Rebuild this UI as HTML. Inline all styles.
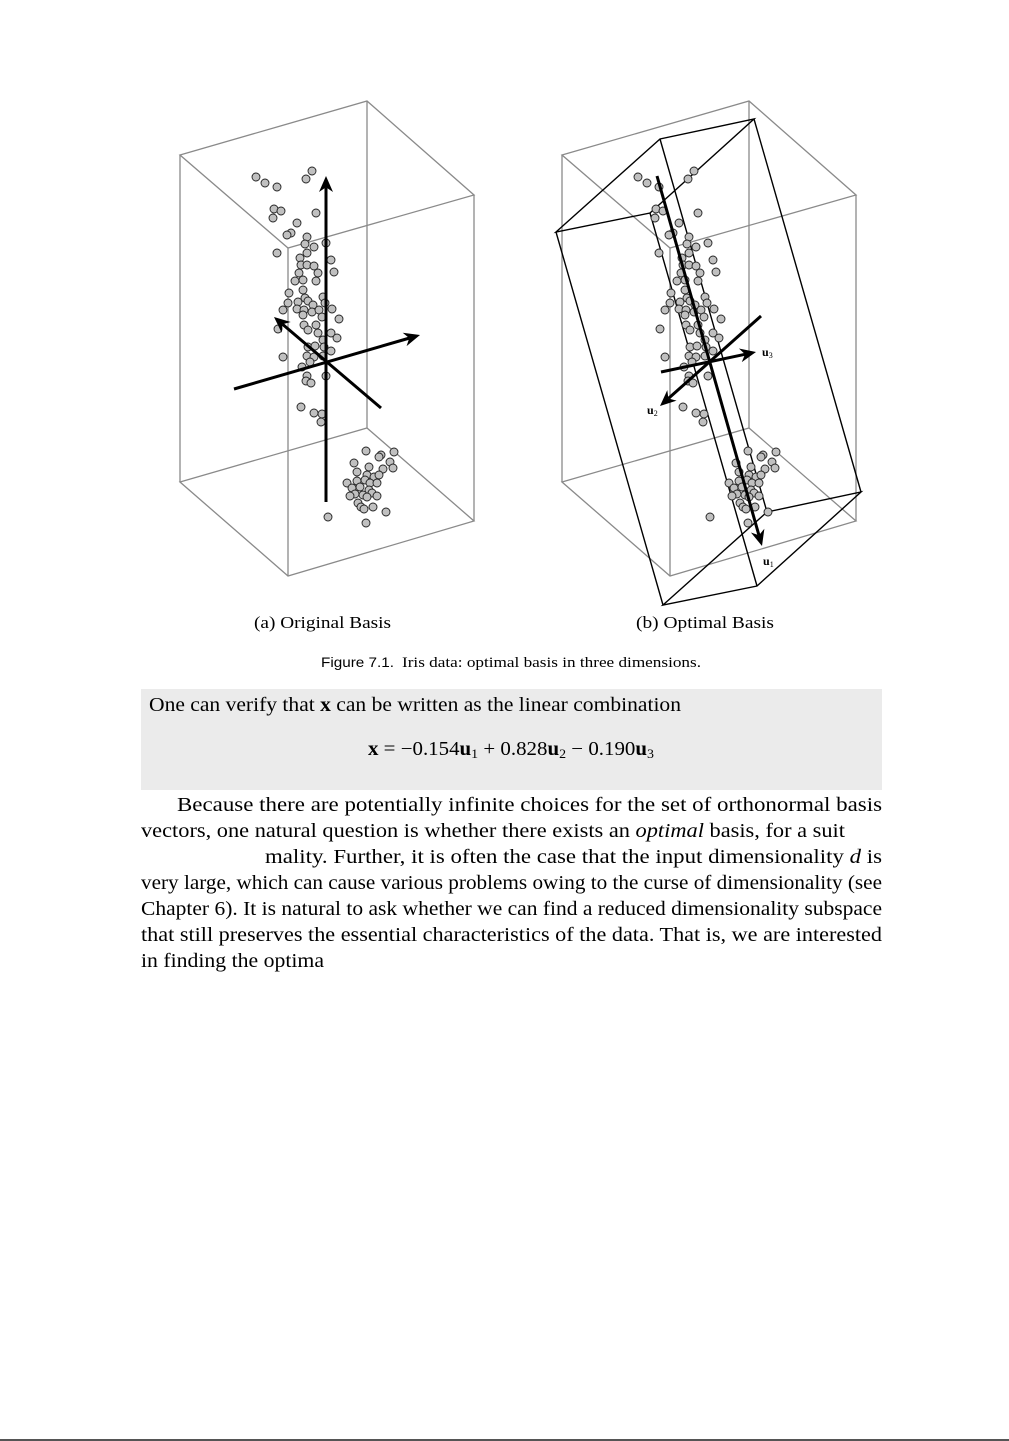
<!DOCTYPE html>
<html><head><meta charset="utf-8"><style>
html,body{margin:0;padding:0;background:#fff;}
svg{display:block;}
.s{font-family:"Liberation Serif",serif;fill:#000;}
</style></head><body>
<svg id="page" width="1009" height="1441" viewBox="0 0 1009 1441">
<g id="boxes" fill="none"></g>
<g id="pts"></g>
<g id="arrows"></g>
<text class="s" x="762" y="356" font-size="12" font-weight="bold">u<tspan font-size="8" font-weight="normal" dy="2">3</tspan></text>
<text class="s" x="647" y="414" font-size="12" font-weight="bold">u<tspan font-size="8" font-weight="normal" dy="2">2</tspan></text>
<text class="s" x="763" y="565" font-size="12" font-weight="bold">u<tspan font-size="8" font-weight="normal" dy="2">1</tspan></text>
<text class="s" x="254" y="628" font-size="17" textLength="137" lengthAdjust="spacingAndGlyphs">(a) Original Basis</text>
<text class="s" x="636" y="628" font-size="17" textLength="138" lengthAdjust="spacingAndGlyphs">(b) Optimal Basis</text>
<text x="321" y="667" font-size="14" font-family="Liberation Sans, sans-serif" textLength="73" lengthAdjust="spacingAndGlyphs">Figure 7.1.</text>
<text class="s" x="402" y="667" font-size="15" textLength="299" lengthAdjust="spacingAndGlyphs">Iris data: optimal basis in three dimensions.</text>
<rect x="141" y="689" width="741" height="101" fill="#ebebeb"/>
<text class="s" x="149" y="711" font-size="19.5" textLength="532" lengthAdjust="spacingAndGlyphs">One can verify that <tspan font-weight="bold">x</tspan> can be written as the linear combination</text>
<text class="s" x="368" y="755" font-size="19.5" textLength="286" lengthAdjust="spacingAndGlyphs"><tspan font-weight="bold">x</tspan> = −0.154<tspan font-weight="bold">u</tspan><tspan font-size="13" dy="3">1</tspan><tspan dy="-3"> + 0.828</tspan><tspan font-weight="bold">u</tspan><tspan font-size="13" dy="3">2</tspan><tspan dy="-3"> − 0.190</tspan><tspan font-weight="bold">u</tspan><tspan font-size="13" dy="3">3</tspan></text>
<g font-size="19.5" class="s">
<text class="s" x="177" y="811" textLength="705" lengthAdjust="spacingAndGlyphs">Because there are potentially infinite choices for the set of orthonormal basis</text>
<text class="s" x="141" y="837" textLength="704" lengthAdjust="spacingAndGlyphs">vectors, one natural question is whether there exists an <tspan font-style="italic">optimal</tspan> basis, for a suit</text>
<text class="s" x="265" y="863" textLength="617" lengthAdjust="spacingAndGlyphs">mality. Further, it is often the case that the input dimensionality <tspan font-style="italic">d</tspan> is</text>
<text class="s" x="141" y="889" textLength="741" lengthAdjust="spacingAndGlyphs">very large, which can cause various problems owing to the curse of dimensionality (see</text>
<text class="s" x="141" y="915" textLength="741" lengthAdjust="spacingAndGlyphs">Chapter 6). It is natural to ask whether we can find a reduced dimensionality subspace</text>
<text class="s" x="141" y="941" textLength="741" lengthAdjust="spacingAndGlyphs">that still preserves the essential characteristics of the data. That is, we are interested</text>
<text class="s" x="141" y="967" textLength="183" lengthAdjust="spacingAndGlyphs">in finding the optima</text>
</g>
<rect x="0" y="1439" width="1009" height="2" fill="#555"/>
</svg>
<script>
// projected iris points (screen units of the left panel)
const ptX = [256,265,277,306,312,274,281,273,316,297,291,287,307,277,326,305,314,307,300,331,301,307,314,334,299,318,303,295,316,303,289,305,323,288,298,308,313,325,283,297,304,312,319,332,303,322,339,278,304,316,318,308,331,337,323,308,315,324,331,307,314,323,283,302,310,307,306,311,326,301,314,322,321,366,381,394,379,390,354,369,383,393,357,367,374,379,347,357,365,370,377,352,360,369,355,363,372,350,367,377,358,361,364,373,386,328,366];
const ptY = [177,183,187,179,171,209,211,218,213,223,233,235,237,253,243,244,247,253,258,260,265,265,266,272,273,273,280,281,281,290,293,298,297,303,302,301,305,303,310,309,310,312,310,309,315,317,319,329,325,325,333,330,333,338,340,347,346,347,351,356,357,356,357,367,362,376,381,383,376,407,413,414,422,451,455,452,457,462,463,467,469,468,472,475,477,475,483,481,480,483,483,488,487,490,494,495,493,496,497,496,503,507,509,507,512,517,523];
const OFFSET_B = 382;
const NS = "http://www.w3.org/2000/svg";
function mk(tag, attrs, parent){const e=document.createElementNS(NS,tag);for(const k in attrs)e.setAttribute(k,attrs[k]);parent.appendChild(e);return e;}
const boxes=document.getElementById('boxes');
function grayBox(dx){
  const T=[[180,155],[367,101],[474,195],[288,248]], B=[[180,482],[367,428],[474,521],[288,576]];
  const sh=p=>[p[0]+dx,p[1]];
  const g=mk('g',{},boxes);
  
  
  const pts=a=>a.map(sh).map(p=>p.join(',')).join(' ');
  mk('polygon',{points:pts(T),stroke:'#8a8a8a','stroke-width':1.3,fill:'none'},g);
  mk('polygon',{points:pts(B),stroke:'#8a8a8a','stroke-width':1.3,fill:'none'},g);
  for(let i=0;i<4;i++){const a=sh(T[i]),b=sh(B[i]);mk('line',{x1:a[0],y1:a[1],x2:b[0],y2:b[1],stroke:'#8a8a8a','stroke-width':1.3},g);}
}
grayBox(0);grayBox(OFFSET_B);
// rotated black box
(function(){
  const T=[[556,232],[660,139],[754,119],[650,213]], v=[107,373];
  const B=T.map(p=>[p[0]+v[0],p[1]+v[1]]);
  const g=mk('g',{},boxes);
  
  
  const s=a=>a.map(p=>p.join(',')).join(' ');
  mk('polygon',{points:s(T),stroke:'#000','stroke-width':1.4,fill:'none'},g);
  mk('polygon',{points:s(B),stroke:'#000','stroke-width':1.4,fill:'none'},g);
  for(let i=0;i<4;i++)mk('line',{x1:T[i][0],y1:T[i][1],x2:B[i][0],y2:B[i][1],stroke:'#000','stroke-width':1.4},g);
})();
const pg=document.getElementById('pts');
[0,OFFSET_B].forEach(dx=>{
  for(let i=0;i<ptX.length;i++){
    const c=mk('circle',{cx:ptX[i]+dx,cy:ptY[i],r:4,fill:'#c0c0c0',stroke:'#222','stroke-width':0.9},pg);
    
    
  }
});
const ag=document.getElementById('arrows');
function arrow(x1,y1,x2,y2,name){
  const g=mk('g',{},ag);
  
  
  const a=Math.atan2(y2-y1,x2-x1),L=16,W=7;
  const bx=x2-L*0.7*Math.cos(a),by=y2-L*0.7*Math.sin(a);
  mk('line',{x1:x1,y1:y1,x2:bx,y2:by,stroke:'#000','stroke-width':3},g);
  const p1=[x2-L*Math.cos(a)+W*Math.sin(a),y2-L*Math.sin(a)-W*Math.cos(a)];
  const p2=[x2-L*Math.cos(a)-W*Math.sin(a),y2-L*Math.sin(a)+W*Math.cos(a)];
  mk('polygon',{points:`${x2},${y2} ${p1} ${bx},${by} ${p2}`,fill:'#000'},g);
}
arrow(326,502,326,176,'axis-z-arrow');
arrow(234,389,420,335,'axis-x-arrow');
arrow(381,408,274,317,'axis-y-arrow');
arrow(657,176,762,546,'u1-arrow');
arrow(661,372,756,352,'u3-arrow');
arrow(761,316,660,406,'u2-arrow');
</script>
</body></html>
